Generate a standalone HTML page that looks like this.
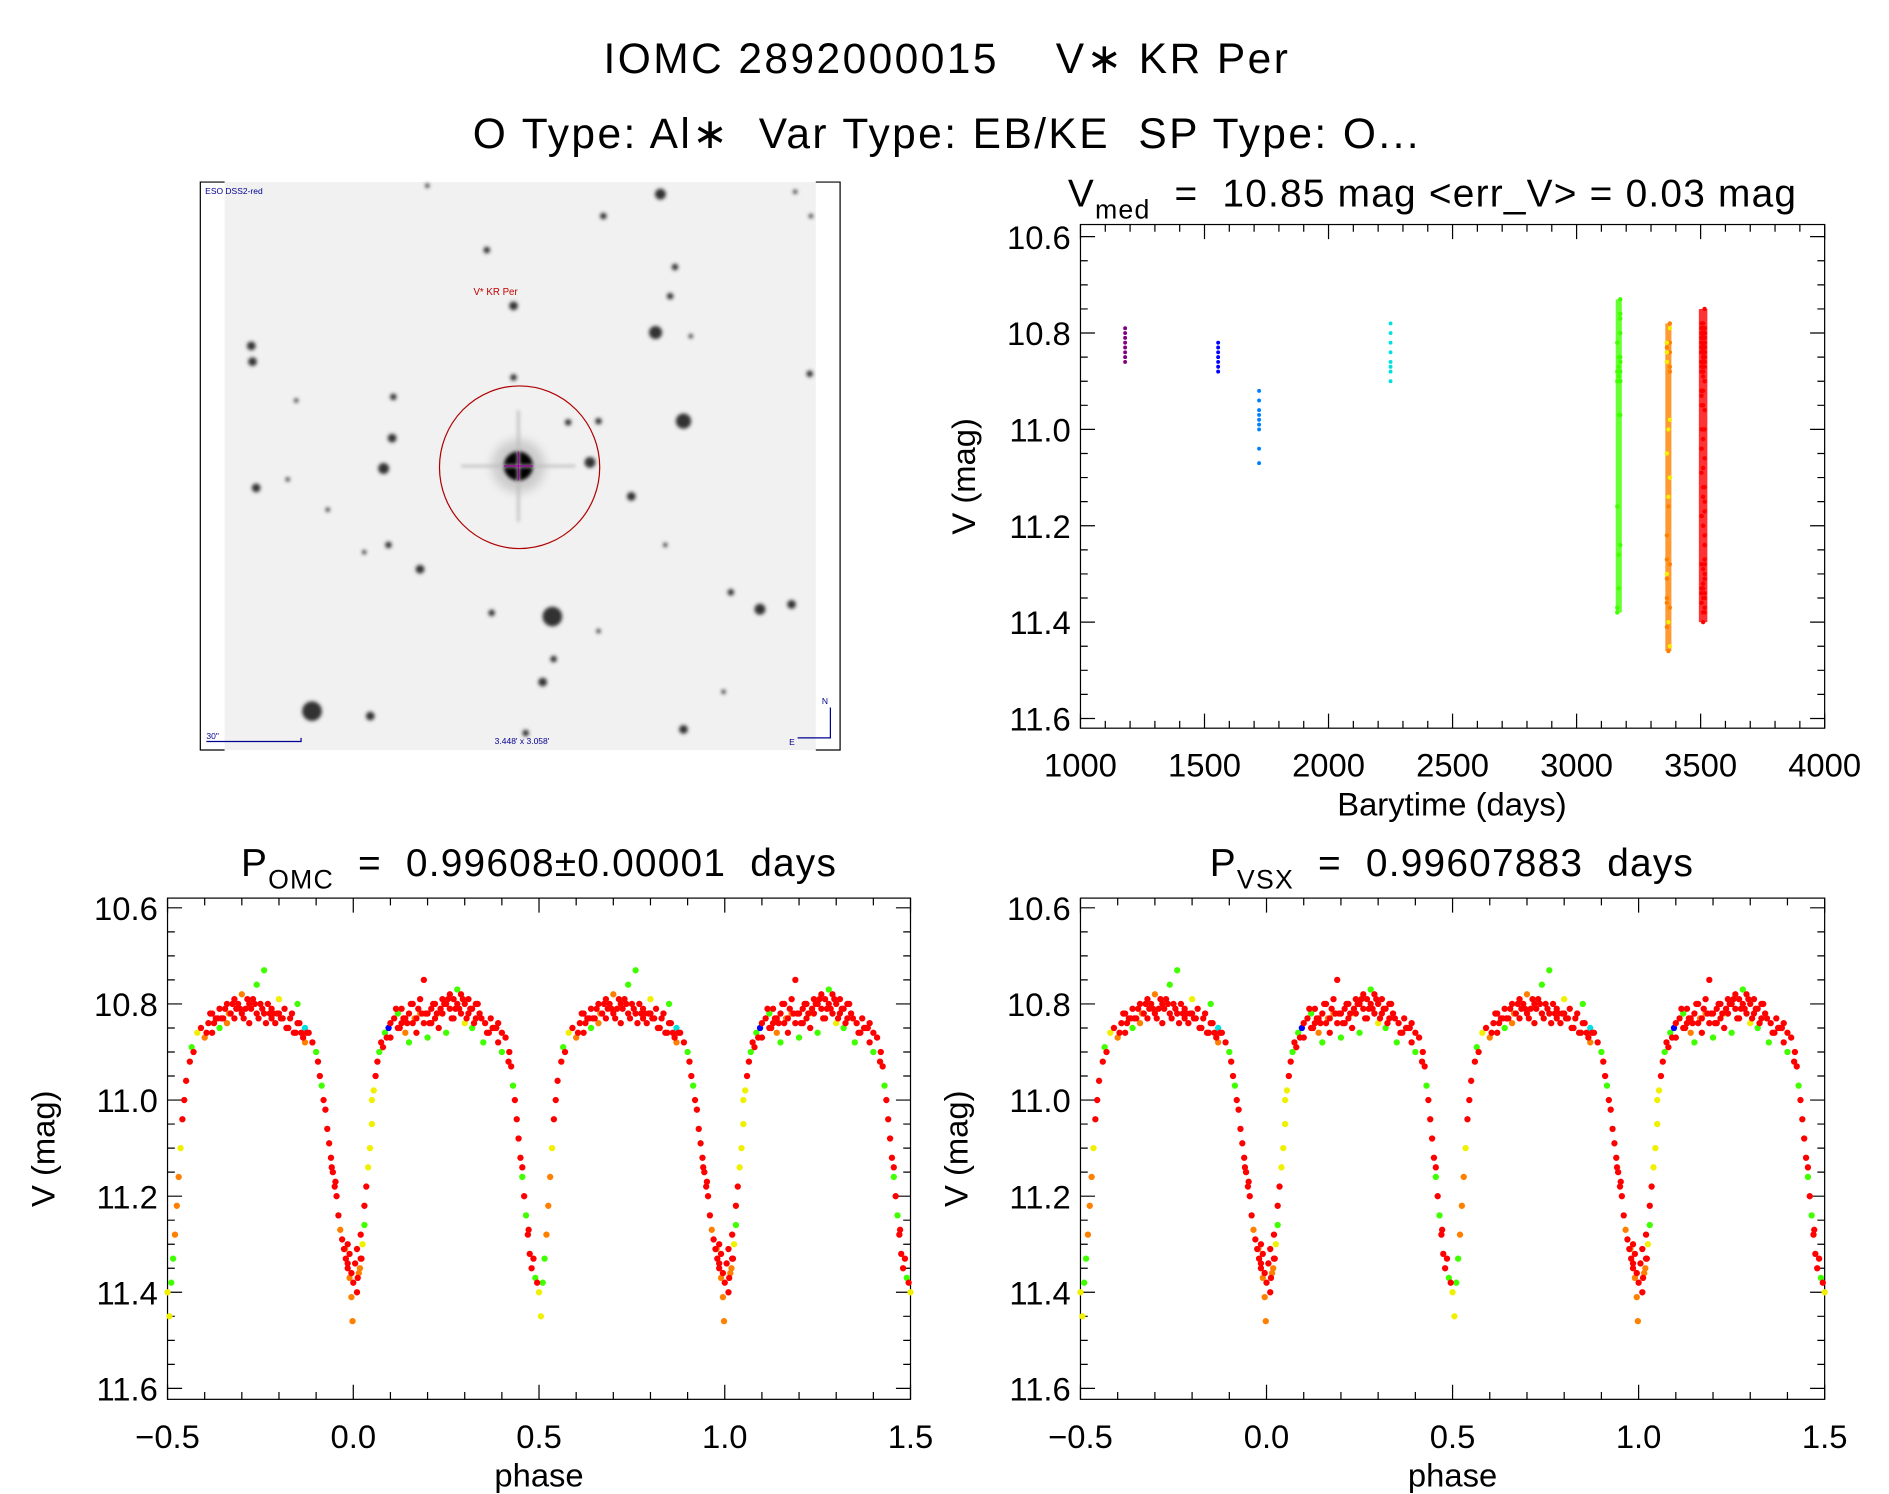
<!DOCTYPE html>
<html><head><meta charset="utf-8"><style>
html,body{margin:0;padding:0;background:#fff;}
svg{display:block;}
text{font-family:"Liberation Sans",sans-serif;fill:#000;white-space:pre;}
</style></head><body>
<svg id="root" width="1889" height="1494" viewBox="0 0 1556 1231" preserveAspectRatio="none" xmlns="http://www.w3.org/2000/svg">
<defs>
<filter id="blur1" x="-100%" y="-100%" width="300%" height="300%"><feGaussianBlur stdDeviation="1.6"/></filter>
<filter id="blur2" x="-100%" y="-100%" width="300%" height="300%"><feGaussianBlur stdDeviation="4"/></filter>
</defs>
<text x="780" y="60" font-size="35" text-anchor="middle" letter-spacing="2">IOMC 2892000015    V∗ KR Per</text>
<text x="780" y="122" font-size="35" text-anchor="middle" letter-spacing="2">O Type: Al∗  Var Type: EB/KE  SP Type: O...</text>
<g id="sky"></g>
<g id="tl"></g>
<g id="p1"></g>
<g id="p2"></g>
</svg>
<script>
// ---- data ----
const colorsByGroup = ['#ff0000','#ff8000','#f0f000','#40ff00','#0000ff','#00e0e0'];
const phases = [0.88,0.89,0.90,0.905,0.91,0.915,0.92,0.925,0.93,0.935,0.94,0.945,0.95,0.955,0.96,0.965,0.97,0.975,0.98,0.985,0.99,0.995,0.99,0.985,0.995,0.998,
0.0,0.005,0.01,0.01,0.015,0.02,0.02,0.025,0.03,0.03,0.035,0.04,0.045,0.05,0.05,0.055,0.06,0.065,0.07,0.075,0.08,0.085,0.09,0.095,0.1,0.1,
0.11,0.12,0.12,0.13,0.13,0.14,0.14,0.15,0.15,0.16,0.16,0.17,0.17,0.18,0.18,0.19,0.19,0.2,0.2,0.21,0.21,0.22,0.22,0.23,0.23,0.24,0.24,0.25,0.25,0.26,0.26,0.27,0.27,0.28,0.28,0.29,0.29,0.3,0.3,0.31,0.31,0.32,0.32,0.33,0.33,0.34,0.35,0.36,0.37,0.38,0.39,0.39,0.4,0.4,0.41,
0.42,0.425,0.43,0.435,0.44,0.445,0.45,0.455,0.46,0.465,0.47,0.475,0.48,0.49,0.5,0.505,0.51,0.515,0.52,0.525,0.53,0.535,0.54,0.545,0.55,0.56,0.565,0.57,0.58,0.59,0.6,
0.61,0.62,0.62,0.63,0.64,0.64,0.65,0.66,0.66,0.67,0.68,0.68,0.69,0.7,0.7,0.71,0.72,0.72,0.73,0.74,0.74,0.75,0.76,0.76,0.77,0.78,0.78,0.79,0.8,0.8,0.81,0.82,0.83,0.84,0.85,0.85,0.86,0.87,0.87,
0.115,0.135,0.155,0.175,0.195,0.215,0.235,0.255,0.275,0.295,0.315,0.335,0.355,0.375,0.615,0.635,0.655,0.675,0.695,0.715,0.735,0.755,0.775,0.795,0.815,0.835,0.855,0.875,
0.125,0.145,0.165,0.185,0.205,0.225,0.245,0.265,0.285,0.305,0.325,0.345,0.365,0.385,0.605,0.625,0.645,0.665,0.685,0.705,0.725,0.745,0.765,0.785,0.805,0.825,0.845,0.865,
0.012,0.018,0.022,0.985,0.978,0.942,0.952,0.418,0.455,0.472,0.485,0.495];
const mags = [10.86,10.88,10.90,10.92,10.95,10.97,11.00,11.02,11.06,11.09,11.12,11.15,11.18,11.20,11.24,11.27,11.29,11.31,11.33,11.35,11.37,11.36,11.32,11.30,11.41,11.46,
11.38,11.34,11.40,11.31,11.36,11.33,11.28,11.30,11.26,11.22,11.18,11.14,11.10,11.05,11.00,10.98,10.95,10.92,10.90,10.88,10.89,10.86,10.87,10.85,10.87,10.84,
10.83,10.85,10.82,10.84,10.81,10.86,10.83,10.82,10.88,10.84,10.80,10.83,10.86,10.82,10.79,10.84,10.75,10.82,10.87,10.81,10.84,10.83,10.80,10.82,10.85,10.79,10.82,10.80,10.86,10.78,10.81,10.79,10.83,10.80,10.77,10.82,10.78,10.80,10.84,10.79,10.82,10.81,10.85,10.83,10.80,10.82,10.88,10.86,10.83,10.85,10.84,10.88,10.86,10.90,10.87,
10.90,10.93,10.97,11.00,11.04,11.08,11.12,11.16,11.20,11.24,11.28,11.32,11.35,11.37,11.40,11.45,11.38,11.33,11.28,11.22,11.16,11.10,11.04,11.00,10.96,10.92,10.89,10.90,10.86,10.85,10.87,
10.84,10.82,10.86,10.83,10.81,10.85,10.83,10.80,10.84,10.82,10.79,10.83,10.80,10.82,10.78,10.81,10.80,10.84,10.79,10.82,10.76,10.80,10.82,10.73,10.80,10.83,10.81,10.84,10.82,10.79,10.83,10.85,10.83,10.86,10.84,10.80,10.86,10.85,10.88,
10.81,10.83,10.80,10.81,10.82,10.80,10.81,10.79,10.81,10.79,10.81,10.80,10.84,10.85,10.82,10.83,10.81,10.80,10.81,10.79,10.80,10.81,10.82,10.82,10.81,10.82,10.84,10.86,
10.85,10.84,10.83,10.82,10.84,10.82,10.80,10.83,10.81,10.83,10.84,10.83,10.86,10.85,10.86,10.84,10.83,10.82,10.81,10.83,10.81,10.83,10.84,10.82,10.83,10.85,10.86,10.87,
11.37,11.35,11.33,11.34,11.31,11.14,11.17,10.92,11.14,11.27,11.33,11.38];
const groups = [0,0,3,0,0,3,0,0,0,0,0,0,0,0,0,1,0,0,0,0,1,0,0,0,1,1,
0,0,0,0,1,0,0,2,3,0,0,2,2,2,2,2,0,0,3,0,0,3,0,4,0,0,
0,0,3,0,0,1,0,0,3,0,0,0,0,1,0,0,0,0,3,0,0,0,0,2,0,0,0,0,3,0,0,0,0,0,3,0,0,0,2,0,0,0,3,0,0,0,3,0,0,0,0,0,0,3,0,
0,0,3,0,0,0,0,3,0,3,0,0,0,3,2,2,3,3,1,1,1,2,0,0,0,0,3,0,2,0,1,
0,0,0,0,0,3,0,0,1,0,0,0,0,0,1,0,0,0,0,0,3,0,0,3,0,0,0,0,0,2,0,0,0,0,0,3,0,5,1,
0,0,0,0,0,0,0,0,0,0,0,0,0,0,0,0,0,0,0,0,0,0,0,0,0,0,0,0,
0,0,1,0,0,0,0,0,0,0,0,0,0,0,0,0,0,1,0,0,0,0,0,0,0,0,0,0,
0,1,0,0,1,0,0,0,0,0,0,0];
const seasonTimes = {0:3510, 1:3370, 2:3370, 3:3170};
const earlyTimes = [1180,1555,1720,2250];
const earlyColors = ['#800080','#0000ff','#0080ff','#00e0e0'];
const earlyMags = [[10.79,10.80,10.81,10.82,10.83,10.84,10.85,10.86],[10.82,10.83,10.84,10.85,10.86,10.87,10.88],[10.92,10.94,10.96,10.97,10.98,10.99,11.0,11.04,11.07],[10.78,10.80,10.82,10.84,10.86,10.87,10.88,10.90]];
const yTicks = [10.6,10.8,11.0,11.2,11.4,11.6];
const tlXTicks = [1000,1500,2000,2500,3000,3500,4000];
const phXTicks = [-0.5,0.0,0.5,1.0,1.5];
const phXLabels = ['\u22120.5','0.0','0.5','1.0','1.5'];
const stars = [[544,160,5],[497,178,3],[401,206,3],[556,220,3],[552,244,3],[423,252,4],[540,274,6],[569,277,2],[207,285,4],[208,298,4],[667,308,3],[423,311,3],[324,327,3],[244,330,2],[563,347,7],[323,361,4],[468,348,3],[493,347,3],[316,386,5],[486,381,5],[211,402,4],[520,409,4],[320,449,3],[346,469,4],[548,449,2],[455,508,9],[626,502,5],[652,498,4],[602,488,3],[405,505,3],[447,562,4],[456,543,3],[257,586,9],[305,590,4],[563,601,4],[433,604,3],[596,570,2],[668,178,2],[352,153,2],[655,158,2],[493,520,2],[270,420,2],[237,395,2],[300,455,2]];

const NS='http://www.w3.org/2000/svg';
function mk(parent,tag,attrs){const e=document.createElementNS(NS,tag);for(const k in attrs)e.setAttribute(k,attrs[k]);parent.appendChild(e);return e;}

// ---- sky image ----
(function(){
 const g=document.getElementById('sky');
 const bg=mk(g,'rect',{x:185,y:150,width:487,height:468,fill:'#f1f1f1'});
 
 
 const fr=mk(g,'path',{d:'M185,150 H165 V618 H185 M672,150 H692 V618 H672',fill:'none',stroke:'#000','stroke-width':1});
 
 
 stars.forEach(s=>{const c=mk(g,'circle',{cx:s[0],cy:s[1],r:s[2]*0.9,fill:'#333',filter:'url(#blur1)'});
  
  });
 mk(g,'circle',{cx:427,cy:384,r:22,fill:'#ccc',filter:'url(#blur2)'});
 const ms=mk(g,'circle',{cx:427,cy:384,r:12,fill:'#000',filter:'url(#blur1)'});
 
 
 mk(g,'path',{d:'M380,384 H474 M427,338 V430',stroke:'#bbb','stroke-width':2,filter:'url(#blur1)'});
 mk(g,'path',{d:'M415,384 H439 M427,372 V396',stroke:'#a000a0','stroke-width':1});
 const ci=mk(g,'ellipse',{cx:428,cy:385,rx:66,ry:67,fill:'none',stroke:'#b00000','stroke-width':1});
 
 
 const t1=mk(g,'text',{x:390,y:243,'font-size':8});t1.textContent='V* KR Per';t1.style.fill='#c00000';
 
 
 const t2=mk(g,'text',{x:169,y:160,'font-size':7});t2.textContent='ESO DSS2-red';t2.style.fill='#000090';
 
 
 const t3=mk(g,'text',{x:170,y:609,'font-size':7});t3.textContent='30"';t3.style.fill='#000090';
 
 
 mk(g,'path',{d:'M170,611 H248 V608',stroke:'#000090','stroke-width':1,fill:'none'});
 const t4=mk(g,'text',{x:430,y:613,'font-size':7,'text-anchor':'middle'});t4.textContent="3.448' x 3.058'";t4.style.fill='#000090';
 
 
 mk(g,'path',{d:'M684,583 V608 H657',stroke:'#000090','stroke-width':1,fill:'none'});
 const t5=mk(g,'text',{x:677,y:580,'font-size':7});t5.textContent='N';t5.style.fill='#000090';
 
 
 const t6=mk(g,'text',{x:650,y:614,'font-size':7});t6.textContent='E';t6.style.fill='#000090';
 
 
})();

// ---- generic axes ----
function axes(g,box,xmin,xmax,xMajor,xMinorStep,xLabels,ylabelX){
 const X=v=>box.x0+(v-xmin)/(xmax-xmin)*(box.x1-box.x0);
 const Y=v=>box.yTop+(v-10.6)/(1.0)*(box.yBot-box.yTop);
 const f=mk(g,'rect',{x:box.x0,y:box.y0,width:box.x1-box.x0,height:box.y1-box.y0,fill:'none',stroke:'#000','stroke-width':1});
 
 
 let d='';
 for(let v=10.55;v<=11.66;v+=0.05){const y=Y(v);if(y<box.y0||y>box.y1)continue;const maj=Math.abs(Math.round(v*5)-v*5)<1e-6;const L=maj?12:6;d+=`M${box.x0},${y}h${L}M${box.x1},${y}h${-L}`;}
 for(let v=xmin;v<=xmax+1e-9;v+=xMinorStep){const x=X(v);const maj=xMajor.some(m=>Math.abs(m-v)<1e-6);const L=maj?12:6;d+=`M${x},${box.y1}v${-L}M${x},${box.y0}v${L}`;}
 mk(g,'path',{d:d,stroke:'#000','stroke-width':1,fill:'none'});
 yTicks.forEach(v=>{const t=mk(g,'text',{x:box.x0-8,y:Y(v)+10,'font-size':27,'text-anchor':'end'});t.textContent=v.toFixed(1);
  
  });
 xMajor.forEach((v,i)=>{const t=mk(g,'text',{x:X(v),y:box.y1+40,'font-size':27,'text-anchor':'middle'});t.textContent=xLabels[i];
  
  });
 const yl=mk(g,'text',{x:ylabelX,y:(box.y0+box.y1)/2,'font-size':27,'text-anchor':'middle',transform:`rotate(-90 ${ylabelX} ${(box.y0+box.y1)/2})`});yl.textContent='V (mag)';
 
 
 return {X,Y};
}

// ---- timeline ----
(function(){
 const g=document.getElementById('tl');
 const box={x0:890,x1:1503,y0:185,y1:600,yTop:195,yBot:592};
 const {X,Y}=axes(g,box,1000,4000,tlXTicks,100,tlXTicks.map(String),803);
 const ti=mk(g,'text',{x:1180,y:170,'font-size':32,'text-anchor':'middle','letter-spacing':1});
 ti.innerHTML='V<tspan font-size="22" dy="10">med</tspan><tspan dy="-10">  =  10.85 mag &lt;err_V&gt; = 0.03 mag</tspan>';
 
 
 const xt=mk(g,'text',{x:1196,y:672,'font-size':27,'text-anchor':'middle'});xt.textContent='Barytime (days)';
 
 
 earlyTimes.forEach((t,i)=>earlyMags[i].forEach(m=>{const c=mk(g,'circle',{cx:X(t),cy:Y(m),r:1.6,fill:earlyColors[i]});
  
  }));
 [[3170,'#40ff00',[3],5],[3370,'#ff8000',[1,2],5],[3510,'#ff0000',[0],7]].forEach(s=>{
  const ms=mags.filter((m,i)=>s[2].includes(groups[i]));
  const lo=Math.min(...ms),hi=Math.max(...ms);
  const r=mk(g,'rect',{x:X(s[0])-s[3]/2,y:Y(lo),width:s[3],height:Y(hi)-Y(lo),fill:s[1],opacity:0.8});
  
  
 });
 [3,1,2,0].forEach(gr=>{
  mags.forEach((m,i)=>{if(groups[i]!==gr)return;const off=((i%3)-1)*6;
   const c=mk(g,'circle',{cx:X(seasonTimes[gr]+off),cy:Y(m),r:1.8,fill:colorsByGroup[gr]});
   
   });
 });
})();

// ---- phase plots ----
function phasePlot(id,x0,x1,ylx,titleHTML,titleX,titleName){
 const g=document.getElementById(id);
 const box={x0:x0,x1:x1,y0:740,y1:1153,yTop:748,yBot:1144};
 const {X,Y}=axes(g,box,-0.5,1.5,phXTicks,0.1,phXLabels,ylx);
 const ti=mk(g,'text',{x:titleX,y:722,'font-size':32,'text-anchor':'middle','letter-spacing':1});
 ti.innerHTML=titleHTML;
 
 
 const xt=mk(g,'text',{x:(x0+x1)/2,y:1225,'font-size':27,'text-anchor':'middle'});xt.textContent='phase';
 
 
 [3,2,1,4,5,0].forEach(gr=>{
  phases.forEach((p,i)=>{if(groups[i]!==gr)return;
   [p-1,p,p+1].forEach(q=>{if(q<-0.5||q>1.5)return;
    const c=mk(g,'circle',{cx:X(q),cy:Y(mags[i]),r:2.6,fill:colorsByGroup[gr]});
    
    });
  });
 });
}
phasePlot('p1',138,750,45,'P<tspan font-size="22" dy="10">OMC</tspan><tspan dy="-10">  =  0.99608±0.00001  days</tspan>',444,'omc-period-title');
phasePlot('p2',890,1503,797,'P<tspan font-size="22" dy="10">VSX</tspan><tspan dy="-10">  =  0.99607883  days</tspan>',1196,'vsx-period-title');
</script>
</body></html>
